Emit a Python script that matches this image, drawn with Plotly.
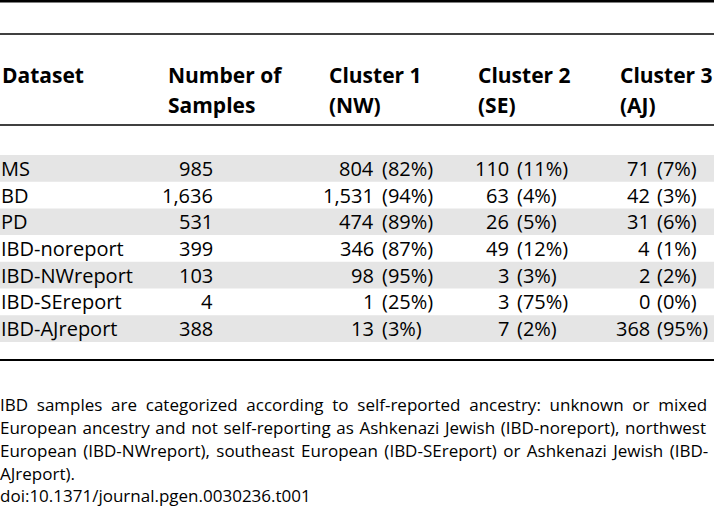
import plotly.graph_objects as go

# ---------------- data ----------------
datasets = ["MS", "BD", "PD", "IBD-noreport", "IBD-NWreport", "IBD-SEreport", "IBD-AJreport"]
n_samples = [985, 1636, 531, 399, 103, 4, 388]
c1_n = [804, 1531, 474, 346, 98, 1, 13]
c1_pct = [82, 94, 89, 87, 95, 25, 3]
c2_n = [110, 63, 26, 49, 3, 3, 7]
c2_pct = [11, 4, 5, 12, 3, 75, 2]
c3_n = [71, 42, 31, 4, 2, 0, 368]
c3_pct = [7, 3, 6, 1, 2, 0, 95]

headers = ["Dataset", "Number of<br>Samples", "Cluster 1<br>(NW)", "Cluster 2<br>(SE)", "Cluster 3<br>(AJ)"]

footnote_lines = [
    "IBD samples are categorized according to self-reported ancestry: unknown or mixed",
    "European ancestry and not self-reporting as Ashkenazi Jewish (IBD-noreport), northwest",
    "European (IBD-NWreport), southeast European (IBD-SEreport) or Ashkenazi Jewish (IBD-",
    "AJreport).",
    "doi:10.1371/journal.pgen.0030236.t001",
]
footnote_spacing = [4.3, 1.2, 2.0, 0, 0]   # word-spacing for justified lines

# ---------------- layout constants ----------------
W, H = 714, 508
FONT = "Open Sans"
BODY = 20
HEAD = 21
FOOT = 17

row_top = 155.0
row_h = 26.7
header_x = [2, 168, 329, 478, 620]
header_y = [75, 105]
num_right = [213, 374, 509, 650]
pct_left = [382, 517, 657]

shapes = []
annotations = []

# shaded rows
for i in range(len(datasets)):
    if i % 2 == 0:
        shapes.append(dict(type="rect", xref="x", yref="y", x0=0, x1=W,
                           y0=row_top + i * row_h, y1=row_top + (i + 1) * row_h,
                           fillcolor="#e5e5e5", line=dict(width=0), layer="below"))

# rules
for y, w in [(1.3, 2.6), (34, 1.5), (125, 1.5), (360, 2.2)]:
    shapes.append(dict(type="line", xref="x", yref="y", x0=0, x1=W, y0=y, y1=y,
                       line=dict(color="black", width=w)))

def ann(x, y, s, anchor, size, bold=False):
    f = dict(family=FONT, size=size, color="black")
    if bold:
        f["weight"] = "bold"
    annotations.append(dict(x=x, y=y, xref="x", yref="y", text=s, showarrow=False,
                            xanchor=anchor, yanchor="middle", borderpad=0, borderwidth=0,
                            font=f))

# headers
for hx, h in zip(header_x, headers):
    parts = h.split("<br>")
    for k, p in enumerate(parts):
        y = header_y[0] if len(parts) == 1 else header_y[k]
        ann(hx, y, p, "left", HEAD, bold=True)

for i, name in enumerate(datasets):
    yc = row_top + (i + 0.5) * row_h
    ann(1, yc, name, "left", BODY)
    ann(num_right[0], yc, f"{n_samples[i]:,}", "right", BODY)
    for j, (cn, cp) in enumerate([(c1_n, c1_pct), (c2_n, c2_pct), (c3_n, c3_pct)]):
        ann(num_right[j + 1], yc, f"{cn[i]:,}", "right", BODY)
        ann(pct_left[j], yc, f"({cp[i]}%)", "left", BODY)

# footnote
foot_y = [404, 427, 450, 473, 495]
for line, y, ws in zip(footnote_lines, foot_y, footnote_spacing):
    t = f'<span style="word-spacing:{ws}px">{line}</span>' if ws else line
    ann(0, y, t, "left", FOOT)

fig = go.Figure()
fig.update_layout(
    width=W, height=H,
    margin=dict(l=0, r=0, t=0, b=0),
    paper_bgcolor="white", plot_bgcolor="white",
    xaxis=dict(range=[0, W], visible=False, fixedrange=True),
    yaxis=dict(range=[H, 0], visible=False, fixedrange=True),
    shapes=shapes, annotations=annotations, showlegend=False,
)
fig.write_html("out.html", config={"displayModeBar": False},
               post_script="document.body.style.margin='0';document.body.style.overflow='hidden';")
